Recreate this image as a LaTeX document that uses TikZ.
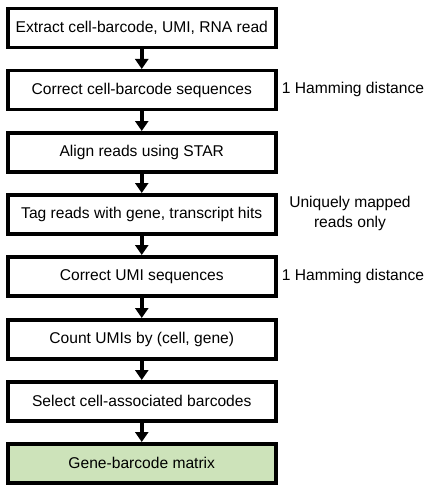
\documentclass[tikz,border=0pt]{standalone}
\usepackage{fontspec}
\setmainfont{Liberation Sans}
\usetikzlibrary{arrows.meta}
\definecolor{boxgreen}{RGB}{205,227,186}
\begin{document}
\begin{tikzpicture}[x=1pt,y=-1pt,
  stepbox/.style={draw=black,line width=3.5pt,fill=white,minimum width=268pt,minimum height=39pt,inner sep=0pt,font=\fontsize{15.6pt}{18pt}\selectfont,anchor=north west},
  sidelabel/.style={font=\fontsize{15.6pt}{20pt}\selectfont,align=center,inner sep=0pt},
  flow/.style={line width=3.5pt,-{Triangle[length=10pt,width=13pt]}}]
\useasboundingbox (0,0) rectangle (442,492);
\node[stepbox] (s1) at (6,7) {Extract cell-barcode, UMI, RNA read};
\node[stepbox] (s2) at (6,69) {Correct cell-barcode sequences};
\node[stepbox] (s3) at (6,131) {Align reads using STAR};
\node[stepbox] (s4) at (6,193) {Tag reads with gene, transcript hits};
\node[stepbox] (s5) at (6,255) {Correct UMI sequences};
\node[stepbox] (s6) at (6,318) {Count UMIs by (cell, gene)};
\node[stepbox] (s7) at (6,380) {Select cell-associated barcodes};
\node[stepbox,fill=boxgreen] (s8) at (6,442) {Gene-barcode matrix};
\foreach \a/\b in {s1/s2,s2/s3,s3/s4,s4/s5,s5/s6,s6/s7,s7/s8}
  \draw[flow] (\a.south) -- (\b.north);
\node[sidelabel] (l1) at (353,89) {1 Hamming distance};
\node[sidelabel] (l2) at (350,213) {Uniquely mapped\\reads only};
\node[sidelabel] (l3) at (353,276) {1 Hamming distance};
\end{tikzpicture}
\end{document}
